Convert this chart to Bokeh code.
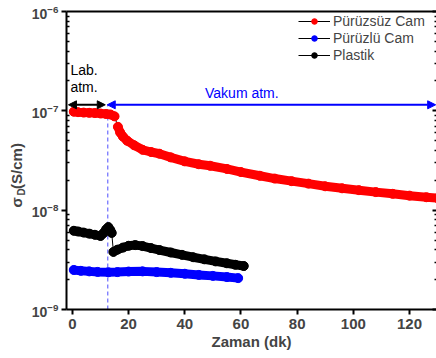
import math
from bokeh.plotting import figure
from bokeh.models import (Range1d, LogAxis, LinearAxis, FixedTicker, Arrow,
                          NormalHead, Label, Legend, LegendItem)
from bokeh.embed import file_html
from bokeh.resources import INLINE

# ---------------- data ----------------
red_x = [0.5, 2, 4, 6, 8, 10, 12, 13.5, 15.0,
         16.2, 17, 18, 19.5, 22, 25, 28, 31, 35, 40, 45, 49, 55, 60, 66.7,
         72, 78, 84, 90, 96, 102, 108, 114, 120, 126, 130]
red_y = [9.8e-8, 9.7e-8, 9.6e-8, 9.55e-8, 9.5e-8, 9.4e-8, 9.3e-8, 9.2e-8, 8.8e-8,
         6.9e-8, 6.05e-8, 5.5e-8, 5.0e-8, 4.5e-8, 4.05e-8, 3.85e-8, 3.7e-8, 3.4e-8,
         3.1e-8, 2.9e-8, 2.8e-8, 2.6e-8, 2.42e-8, 2.22e-8, 2.08e-8, 1.96e-8,
         1.85e-8, 1.74e-8, 1.66e-8, 1.59e-8, 1.52e-8, 1.46e-8, 1.40e-8, 1.35e-8, 1.32e-8]
red_break = 9

blue_x = [0.5, 3, 6, 9, 12.8, 16, 20, 25, 30, 35, 40, 45, 50, 55, 59]
blue_y = [2.5e-9, 2.45e-9, 2.42e-9, 2.39e-9, 2.37e-9, 2.38e-9, 2.41e-9, 2.42e-9,
          2.38e-9, 2.34e-9, 2.29e-9, 2.23e-9, 2.18e-9, 2.12e-9, 2.07e-9]

black_x = [0.5, 2, 4, 6, 8, 10, 11, 12, 12.8, 13.5, 14,
           14.6, 16, 18, 20, 22.4, 25, 28, 31, 35, 39, 43, 47, 51, 55, 58, 61]
black_y = [6.2e-9, 6.1e-9, 5.95e-9, 5.8e-9, 5.65e-9, 5.5e-9, 5.85e-9, 6.4e-9, 6.75e-9,
           6.3e-9, 5.9e-9,
           3.8e-9, 4.0e-9, 4.2e-9, 4.38e-9, 4.45e-9, 4.35e-9, 4.15e-9, 3.97e-9,
           3.75e-9, 3.55e-9, 3.36e-9, 3.2e-9, 3.05e-9, 2.92e-9, 2.82e-9, 2.74e-9]
black_break = 11

series_names = ["Pürüzsüz Cam", "Pürüzlü Cam", "Plastik"]
x_ticks = [0, 20, 40, 60, 80, 100, 120]
y_major = [1e-9, 1e-8, 1e-7, 1e-6]

# y-axis title: sigma with subscript D, then the unit
ylabel_main = "σ\u00a0\u00a0(S/cm)"
ylabel_sub = "D"

# annotation positions
switch_time = 12.6          # lab -> vacuum
arrow_level = 1.15e-7
x_lo, x_hi = -2.1, 129.6
y_lo, y_hi = 1e-9, 1e-6

FONT = "Liberation Sans"
RED, BLUE, BLACK = "#ff0000", "#0000ff", "#000000"

p = figure(width=436, height=358, x_range=Range1d(x_lo, x_hi),
           y_range=Range1d(y_lo, y_hi), y_axis_type="log",
           output_backend="svg", toolbar_location=None,
           min_border_left=66, min_border_top=11, min_border_right=0,
           min_border_bottom=49)
p.outline_line_color = None
p.grid.visible = False
p.background_fill_color = "white"
p.border_fill_color = "white"

y_minor = [m * d for d in y_major[:-1] for m in range(2, 10)]

left = p.left[0]
left.ticker = FixedTicker(ticks=y_major, minor_ticks=y_minor)
left.axis_line_width = 2
left.major_tick_line_width = 2
left.major_tick_out = 5
left.major_tick_in = 0
left.minor_tick_in = 3
left.minor_tick_out = 0
left.minor_tick_line_width = 1.5
left.major_label_text_font = FONT
left.major_label_text_font_style = "bold"
left.major_label_text_font_size = "14px"
left.major_label_standoff = 3

bottom = p.below[0]
bottom.ticker = FixedTicker(ticks=x_ticks, minor_ticks=[])
bottom.axis_line_width = 2
bottom.major_tick_line_width = 2
bottom.major_tick_out = 5
bottom.major_tick_in = 0
bottom.minor_tick_line_color = None
bottom.major_label_text_font = FONT
bottom.major_label_text_font_style = "bold"
bottom.major_label_text_font_size = "15px"
bottom.major_label_standoff = 4
bottom.axis_label = "Zaman (dk)"
bottom.axis_label_text_font = FONT
bottom.axis_label_text_font_style = "bold"
bottom.axis_label_text_font_size = "15px"
bottom.axis_label_standoff = 1

right = LogAxis(ticker=FixedTicker(ticks=y_major, minor_ticks=y_minor),
                axis_line_color=None, major_tick_in=4, major_tick_out=0,
                minor_tick_in=2, minor_tick_out=0, major_tick_line_width=2,
                minor_tick_line_width=1.5,
                major_label_text_font_size="1px", major_label_text_color=None,
                major_label_standoff=0)
p.add_layout(right, "right")

top = LinearAxis(ticker=FixedTicker(ticks=x_ticks, minor_ticks=[]),
                 axis_line_width=2,
                 major_tick_in=0, major_tick_out=0, minor_tick_in=0,
                 minor_tick_out=0, major_tick_line_color=None,
                 minor_tick_line_color=None,
                 major_label_text_font_size="1px", major_label_text_color=None,
                 major_label_standoff=0)
p.add_layout(top, "above")

# vertical dotted switch line
p.segment(x0=[switch_time], y0=[y_lo], x1=[switch_time], y1=[arrow_level],
          line_color="#4d4dff", line_width=1, line_dash="4 3")

def draw(xs, ys, color, brk):
    thin = p.line(xs, ys, line_color="black", line_width=1)
    if brk is None:
        segs_x, segs_y = [xs], [ys]
    else:
        segs_x, segs_y = [xs[:brk], xs[brk:]], [ys[:brk], ys[brk:]]
    p.multi_line(segs_x, segs_y, line_color=color, line_width=9,
                 line_cap="round", line_join="round")
    dots = p.scatter(xs, ys, size=9, fill_color=color, line_color=color)
    return [thin, dots]

r_red = draw(red_x, red_y, RED, red_break)
r_black = draw(black_x, black_y, BLACK, black_break)
r_blue = draw(blue_x, blue_y, BLUE, None)

# arrows
p.add_layout(Arrow(x_start=x_lo + 0.7, y_start=arrow_level,
                   x_end=switch_time - 0.9, y_end=arrow_level,
                   line_color=BLACK, line_width=2,
                   start=NormalHead(size=8, fill_color=BLACK, line_color=BLACK),
                   end=NormalHead(size=8, fill_color=BLACK, line_color=BLACK)))
p.add_layout(Arrow(x_start=switch_time - 0.2, y_start=arrow_level,
                   x_end=x_hi - 0.3, y_end=arrow_level,
                   line_color=BLUE, line_width=2,
                   start=NormalHead(size=8, fill_color=BLUE, line_color=BLUE),
                   end=NormalHead(size=8, fill_color=BLUE, line_color=BLUE)))

def txt(x, y, s, color="black", size="14px"):
    p.add_layout(Label(x=x, y=y, text=s, text_color=color, text_font=FONT,
                       text_font_size=size, text_baseline="alphabetic"))

txt(-0.7, 2.58e-7, "Lab.")
txt(-0.7, 1.75e-7, "atm.")
txt(47.2, 1.5e-7, "Vakum atm.", color=BLUE)

# y axis title as rotated labels in the left side panel (screen px)
def ylab(x, y, s, size):
    p.add_layout(Label(x=x, y=y, x_units="screen", y_units="screen", text=s,
                       angle=math.pi / 2, text_font=FONT, text_font_style="bold",
                       text_font_size=size, text_baseline="alphabetic",
                       text_align="left"), "left")

ylab(5, 102, ylabel_main, "15px")
ylab(21, 114, ylabel_sub, "10px")

legend = Legend(items=[LegendItem(label=series_names[0], renderers=r_red),
                       LegendItem(label=series_names[1], renderers=r_blue),
                       LegendItem(label=series_names[2], renderers=r_black)],
                location=(232, 246), margin=0, padding=4, spacing=1,
                glyph_width=32, glyph_height=14, label_height=14,
                label_standoff=3, label_text_font=FONT,
                label_text_font_size="14px", background_fill_alpha=0,
                border_line_color=None)
p.add_layout(legend)

open("out.html", "w").write(file_html(p, INLINE))
